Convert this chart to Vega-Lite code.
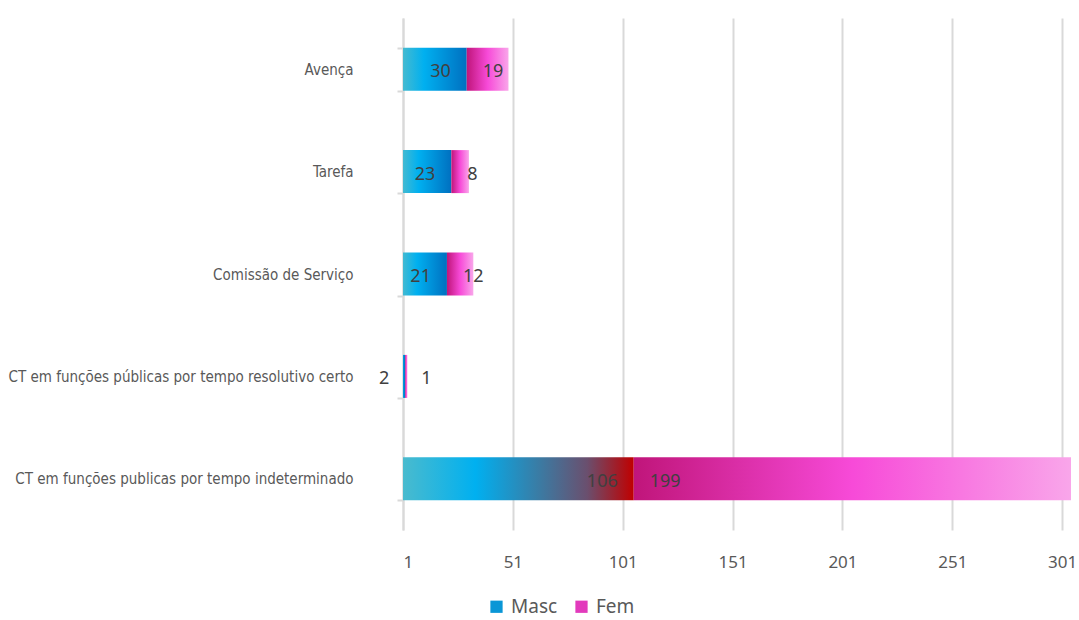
{
  "$schema": "https://vega.github.io/schema/vega-lite/v6.json",
  "autosize": "none",
  "width": 668,
  "height": 512,
  "padding": {"left": 403, "top": 18, "right": 8, "bottom": 90},
  "background": "white",
  "config": {"view": {"stroke": null}},
  "data": {"values": [
    {"cat": "Avença", "sexo": "Masc", "valor": 30},
    {"cat": "Avença", "sexo": "Fem", "valor": 19},
    {"cat": "Tarefa", "sexo": "Masc", "valor": 23},
    {"cat": "Tarefa", "sexo": "Fem", "valor": 8},
    {"cat": "Comissão de Serviço", "sexo": "Masc", "valor": 21},
    {"cat": "Comissão de Serviço", "sexo": "Fem", "valor": 12},
    {"cat": "CT em funções públicas por tempo resolutivo certo", "sexo": "Masc", "valor": 2},
    {"cat": "CT em funções públicas por tempo resolutivo certo", "sexo": "Fem", "valor": 1},
    {"cat": "CT em funções publicas por tempo indeterminado", "sexo": "Masc", "valor": 106},
    {"cat": "CT em funções publicas por tempo indeterminado", "sexo": "Fem", "valor": 199}
  ]},
  "transform": [
    {"stack": "valor", "groupby": ["cat"], "as": ["x0", "x1"], "sort": [{"field": "sexo", "order": "descending"}]}
  ],
  "encoding": {
    "y": {
      "field": "cat", "type": "nominal",
      "sort": ["Avença", "Tarefa", "Comissão de Serviço", "CT em funções públicas por tempo resolutivo certo", "CT em funções publicas por tempo indeterminado"],
      "scale": {"paddingInner": 0.58, "paddingOuter": 0.29},
      "axis": {
        "title": null, "tickBand": "extent", "domainColor": "#d9d9d9", "domainWidth": 2,
        "tickColor": "#d9d9d9", "tickWidth": 2, "tickSize": 6, "labelPadding": 44,
        "labelFont": "DejaVu Sans Condensed", "labelFontSize": 15, "labelColor": "#595959", "labelLimit": 400
      }
    }
  },
  "layer": [
    {
      "mark": {"type": "bar", "clip": true},
      "encoding": {
        "x": {
          "field": "x0", "type": "quantitative",
          "scale": {"domain": [1, 305], "zero": false, "nice": false},
          "axis": {
            "title": null, "values": [1, 51, 101, 151, 201, 251, 301], "domain": false, "ticks": false,
            "gridColor": "#d9d9d9", "gridWidth": 2, "labelPadding": 24,
            "labelFont": "Noto Sans", "labelFontSize": 17, "labelColor": "#595959"
          }
        },
        "x2": {"field": "x1"},
        "color": {
          "condition": [
            {
              "test": "datum.sexo === 'Masc' && datum.valor === 106",
              "value": {"gradient": "linear", "x1": 0, "y1": 0, "x2": 1, "y2": 0, "stops": [
                {"offset": 0, "color": "#4cbbcd"}, {"offset": 0.32, "color": "#00b0f0"},
                {"offset": 0.6, "color": "#3c7aa2"}, {"offset": 0.8, "color": "#6a4f6e"}, {"offset": 1, "color": "#c00000"}]}
            },
            {
              "test": "datum.sexo === 'Masc'",
              "value": {"gradient": "linear", "x1": 0, "y1": 0, "x2": 1, "y2": 0, "stops": [
                {"offset": 0, "color": "#4cbbcd"}, {"offset": 0.35, "color": "#00b0f0"}, {"offset": 1, "color": "#0070c0"}]}
            },
            {
              "test": "datum.sexo === 'Fem'",
              "value": {"gradient": "linear", "x1": 0, "y1": 0, "x2": 1, "y2": 0, "stops": [
                {"offset": 0, "color": "#c0157a"}, {"offset": 0.5, "color": "#f74ad8"}, {"offset": 1, "color": "#f9a6ea"}]}
            }
          ],
          "field": "sexo", "type": "nominal",
          "scale": {"domain": ["Masc", "Fem"], "range": ["#0a96d6", "#e23abc"]},
          "legend": {
            "title": null, "orient": "none", "direction": "horizontal", "legendX": 84, "legendY": 579,
            "symbolType": "square", "symbolSize": 150, "symbolStrokeWidth": 0, "symbolOpacity": 1,
            "labelFont": "Noto Sans", "labelFontSize": 19, "labelColor": "#595959", "columnPadding": 14, "labelOffset": 5
          }
        }
      }
    },
    {
      "transform": [{"filter": "datum.sexo === 'Masc'"}],
      "mark": {"type": "text", "align": "right", "baseline": "middle", "dx": -16, "dy": 3, "font": "Noto Sans", "fontSize": 18, "color": "#404040"},
      "encoding": {
        "x": {"field": "x1", "type": "quantitative"},
        "text": {"field": "valor", "type": "quantitative"}
      }
    },
    {
      "transform": [{"filter": "datum.sexo === 'Fem'"}],
      "mark": {"type": "text", "align": "left", "baseline": "middle", "dx": 16, "dy": 3, "font": "Noto Sans", "fontSize": 18, "color": "#404040"},
      "encoding": {
        "x": {"field": "x0", "type": "quantitative"},
        "text": {"field": "valor", "type": "quantitative"}
      }
    }
  ]
}
